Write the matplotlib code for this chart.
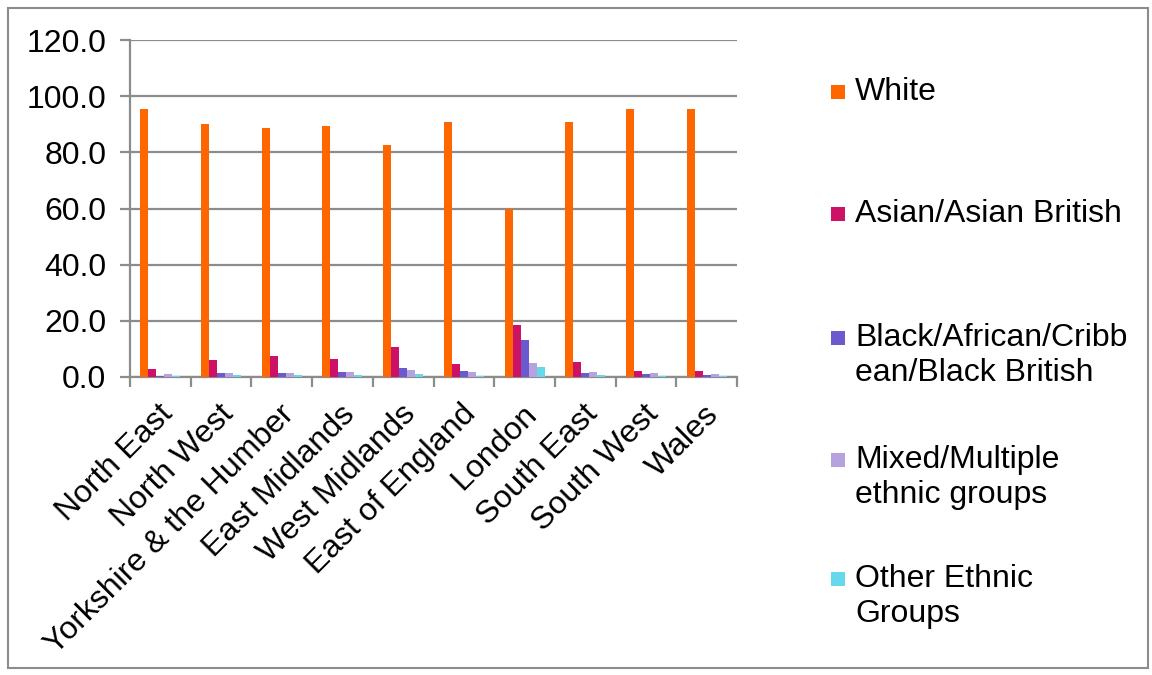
import matplotlib
matplotlib.use("Agg")
import matplotlib.pyplot as plt
import numpy as np
from matplotlib.patches import Rectangle

regions = ["North East", "North West", "Yorkshire & the Humber", "East Midlands",
           "West Midlands", "East of England", "London", "South East", "South West", "Wales"]
series_names = ["White", "Asian/Asian British", "Black/African/Cribbean/Black British",
                "Mixed/Multiple ethnic groups", "Other Ethnic Groups"]
legend_labels = ["White", "Asian/Asian British", "Black/African/Cribb\nean/Black British",
                 "Mixed/Multiple\nethnic groups", "Other Ethnic\nGroups"]
white = [95.3, 90.2, 88.8, 89.3, 82.7, 90.8, 59.8, 90.7, 95.4, 95.6]
asian = [2.9, 6.2, 7.3, 6.5, 10.8, 4.8, 18.5, 5.2, 2.0, 2.3]
black = [0.5, 1.4, 1.5, 1.8, 3.3, 2.0, 13.3, 1.6, 0.9, 0.6]
mixed = [0.9, 1.6, 1.6, 1.9, 2.4, 1.9, 5.0, 1.9, 1.4, 1.0]
other = [0.4, 0.6, 0.8, 0.6, 0.9, 0.5, 3.4, 0.6, 0.3, 0.5]
yticks = [0, 20, 40, 60, 80, 100, 120]

series = [white, asian, black, mixed, other]
colors = ["#FF6600", "#CC1166", "#6A5ACD", "#B7A2E0", "#66D8EC"]

plt.rcParams['font.family'] = ['Liberation Sans', 'DejaVu Sans']

fig = plt.figure(figsize=(11.52, 6.75), dpi=100)
ax = fig.add_axes([130/1152, 1-377/675, 607/1152, 337/675])

x = np.arange(len(regions))
bw = 0.132
for i, (vals, c) in enumerate(zip(series, colors)):
    ax.bar(x + (i - 2) * bw, vals, width=bw, color=c, zorder=3, linewidth=0,
           label=series_names[i])

ax.set_xlim(-0.5, len(regions) - 0.5)
ax.set_ylim(0, 120)
ax.set_yticks(yticks)
ax.set_yticklabels([f"{v:.1f}" for v in yticks], fontsize=23)
ax.yaxis.grid(True, color="#8C8C8C", linewidth=1.6, zorder=0)
ax.set_axisbelow(True)

ax.set_xticks(np.arange(-0.5, len(regions), 1.0))
ax.set_xticklabels([])
ax.set_xticks(x - 0.05, minor=True)
ax.set_xticklabels(regions, minor=True, fontsize=23, rotation=45,
                   ha='right', va='top', rotation_mode='anchor')
ax.tick_params(axis='x', which='minor', length=0, pad=16)
ax.tick_params(axis='x', which='major', length=7, width=1.6, color="#8C8C8C")
ax.tick_params(axis='y', length=7, width=1.6, color="#8C8C8C", pad=10)

for s in ["top", "right"]:
    ax.spines[s].set_visible(False)
for s in ["left", "bottom"]:
    ax.spines[s].set_color("#8C8C8C")
    ax.spines[s].set_linewidth(1.6)

# legend
first_line_y = [92, 214, 338, 460, 579]
line_gap = 35
for lab, c, yc in zip(legend_labels, colors, first_line_y):
    fig.patches.append(Rectangle((831/1152, 1-(yc+7)/675), 14/1152, 14/675,
                                 transform=fig.transFigure, facecolor=c, edgecolor='none'))
    for j, line in enumerate(lab.split("\n")):
        fig.text(855/1152, 1-(yc + j*line_gap)/675, line, fontsize=23, va='center', ha='left')

# outer frame
fig.patches.append(Rectangle((8/1152, 1-668/675), 1140/1152, 660/675,
                             transform=fig.transFigure, facecolor='none',
                             edgecolor='#8C8C8C', linewidth=1.5))

fig.savefig("out.png", dpi=100)
